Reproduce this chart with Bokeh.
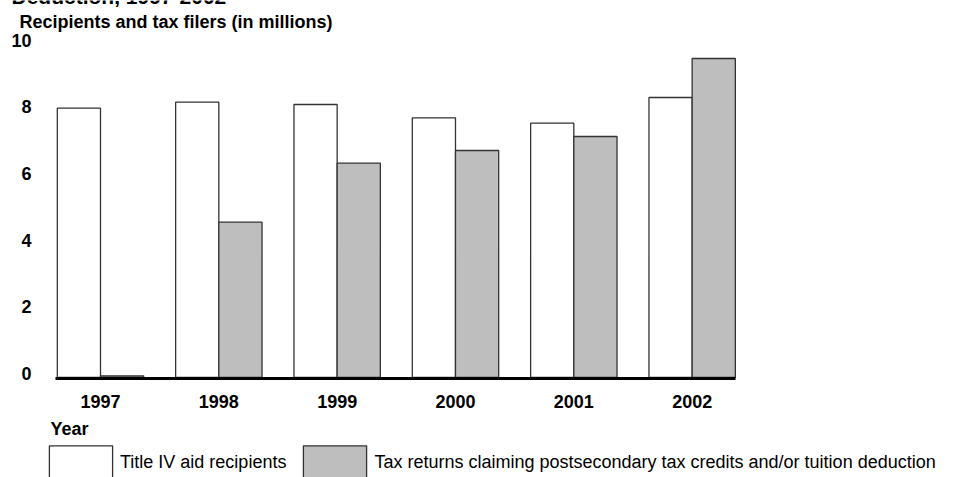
from bokeh.plotting import figure
from bokeh.models import (Range1d, LinearAxis, FixedTicker, Label, Legend, LegendItem,
                          ColumnDataSource)
from bokeh.embed import file_html
from bokeh.resources import INLINE

years = ["1997", "1998", "1999", "2000", "2001", "2002"]
title_iv = [8.08, 8.26, 8.19, 7.79, 7.63, 8.40]
tax_returns = [0.05, 4.66, 6.43, 6.81, 7.23, 9.57]
y_ticks = [0, 2, 4, 6, 8, 10]

FONT = "Liberation Sans"
idx = list(range(len(years)))
w = 0.365
src = ColumnDataSource(dict(
    xa=[i - w / 2 for i in idx],
    xb=[i + w / 2 for i in idx],
    a=title_iv,
    b=tax_returns,
))

X0, X1 = -0.8451, 7.2509   # canvas-wide x range (group spacing = 1)
Y0, Y1 = -3.0, 11.31       # canvas-wide y range
AX_LEFT, AX_RIGHT = -0.3803, 5.366

p = figure(width=958, height=477, output_backend="svg", toolbar_location=None,
           x_range=Range1d(X0, X1), y_range=Range1d(Y0, Y1),
           min_border=0, min_border_left=0, min_border_right=0,
           min_border_top=0, min_border_bottom=0)
p.outline_line_color = None
p.xgrid.visible = False
p.ygrid.visible = False
p.background_fill_color = "white"
p.border_fill_color = "white"

ra = p.vbar(x="xa", top="a", bottom=0, width=w, source=src,
            fill_color="white", line_color="#333333", line_width=1.3)
rb = p.vbar(x="xb", top="b", bottom=0, width=w, source=src,
            fill_color="#bebebe", line_color="#333333", line_width=1.3)

# x axis drawn at y = 0 inside the frame
xa = p.xaxis[0]
xa.fixed_location = -0.04
xa.bounds = (AX_LEFT, AX_RIGHT)
xa.ticker = FixedTicker(ticks=idx)
xa.major_label_overrides = {i: y for i, y in zip(idx, years)}
xa.axis_line_width = 3
xa.axis_line_color = "black"
xa.major_tick_line_color = None
xa.minor_tick_line_color = None
xa.major_label_text_font = FONT
xa.major_label_text_font_style = "bold"
xa.major_label_text_font_size = "18px"
xa.major_label_text_color = "black"
xa.major_label_standoff = 10

# y axis: hide default, use label axis shifted a few pixels upward
p.yaxis[0].visible = False
p.extra_y_ranges = {"lbl": Range1d(Y0 - 0.12, Y1 - 0.12)}
ya = LinearAxis(y_range_name="lbl", ticker=FixedTicker(ticks=y_ticks), fixed_location=AX_LEFT)
ya.axis_line_color = None
ya.major_tick_line_color = None
ya.minor_tick_line_color = None
ya.major_label_text_font = FONT
ya.major_label_text_font_style = "bold"
ya.major_label_text_font_size = "18px"
ya.major_label_text_color = "black"
ya.major_label_standoff = 18
p.add_layout(ya, "left")

# texts
p.add_layout(Label(x=-0.7521, y=11.43, text="Deduction, 1997-2002",
                   text_font=FONT, text_font_style="bold", text_font_size="21px",
                   text_baseline="alphabetic", text_align="left", text_color="black"))
p.add_layout(Label(x=-0.6845, y=10.68, text="Recipients and tax filers (in millions)",
                   text_font=FONT, text_font_style="bold", text_font_size="18px",
                   text_baseline="middle", text_align="left", text_color="black"))
p.add_layout(Label(x=-0.4226, y=-1.53, text="Year",
                   text_font=FONT, text_font_style="bold", text_font_size="18px",
                   text_baseline="middle", text_align="left", text_color="black"))

legend = Legend(items=[
    LegendItem(label="Title IV aid recipients", renderers=[ra]),
    LegendItem(label="Tax returns claiming postsecondary tax credits and/or tuition deduction", renderers=[rb]),
], location=(41, -7), orientation="horizontal",
    glyph_width=79, glyph_height=43, label_standoff=-4, spacing=9,
    padding=0, margin=0, border_line_color=None, background_fill_alpha=0,
    label_text_font=FONT, label_text_font_size="18px", label_text_color="black")
p.add_layout(legend, "center")

open("out.html", "w").write(file_html(p, INLINE))
